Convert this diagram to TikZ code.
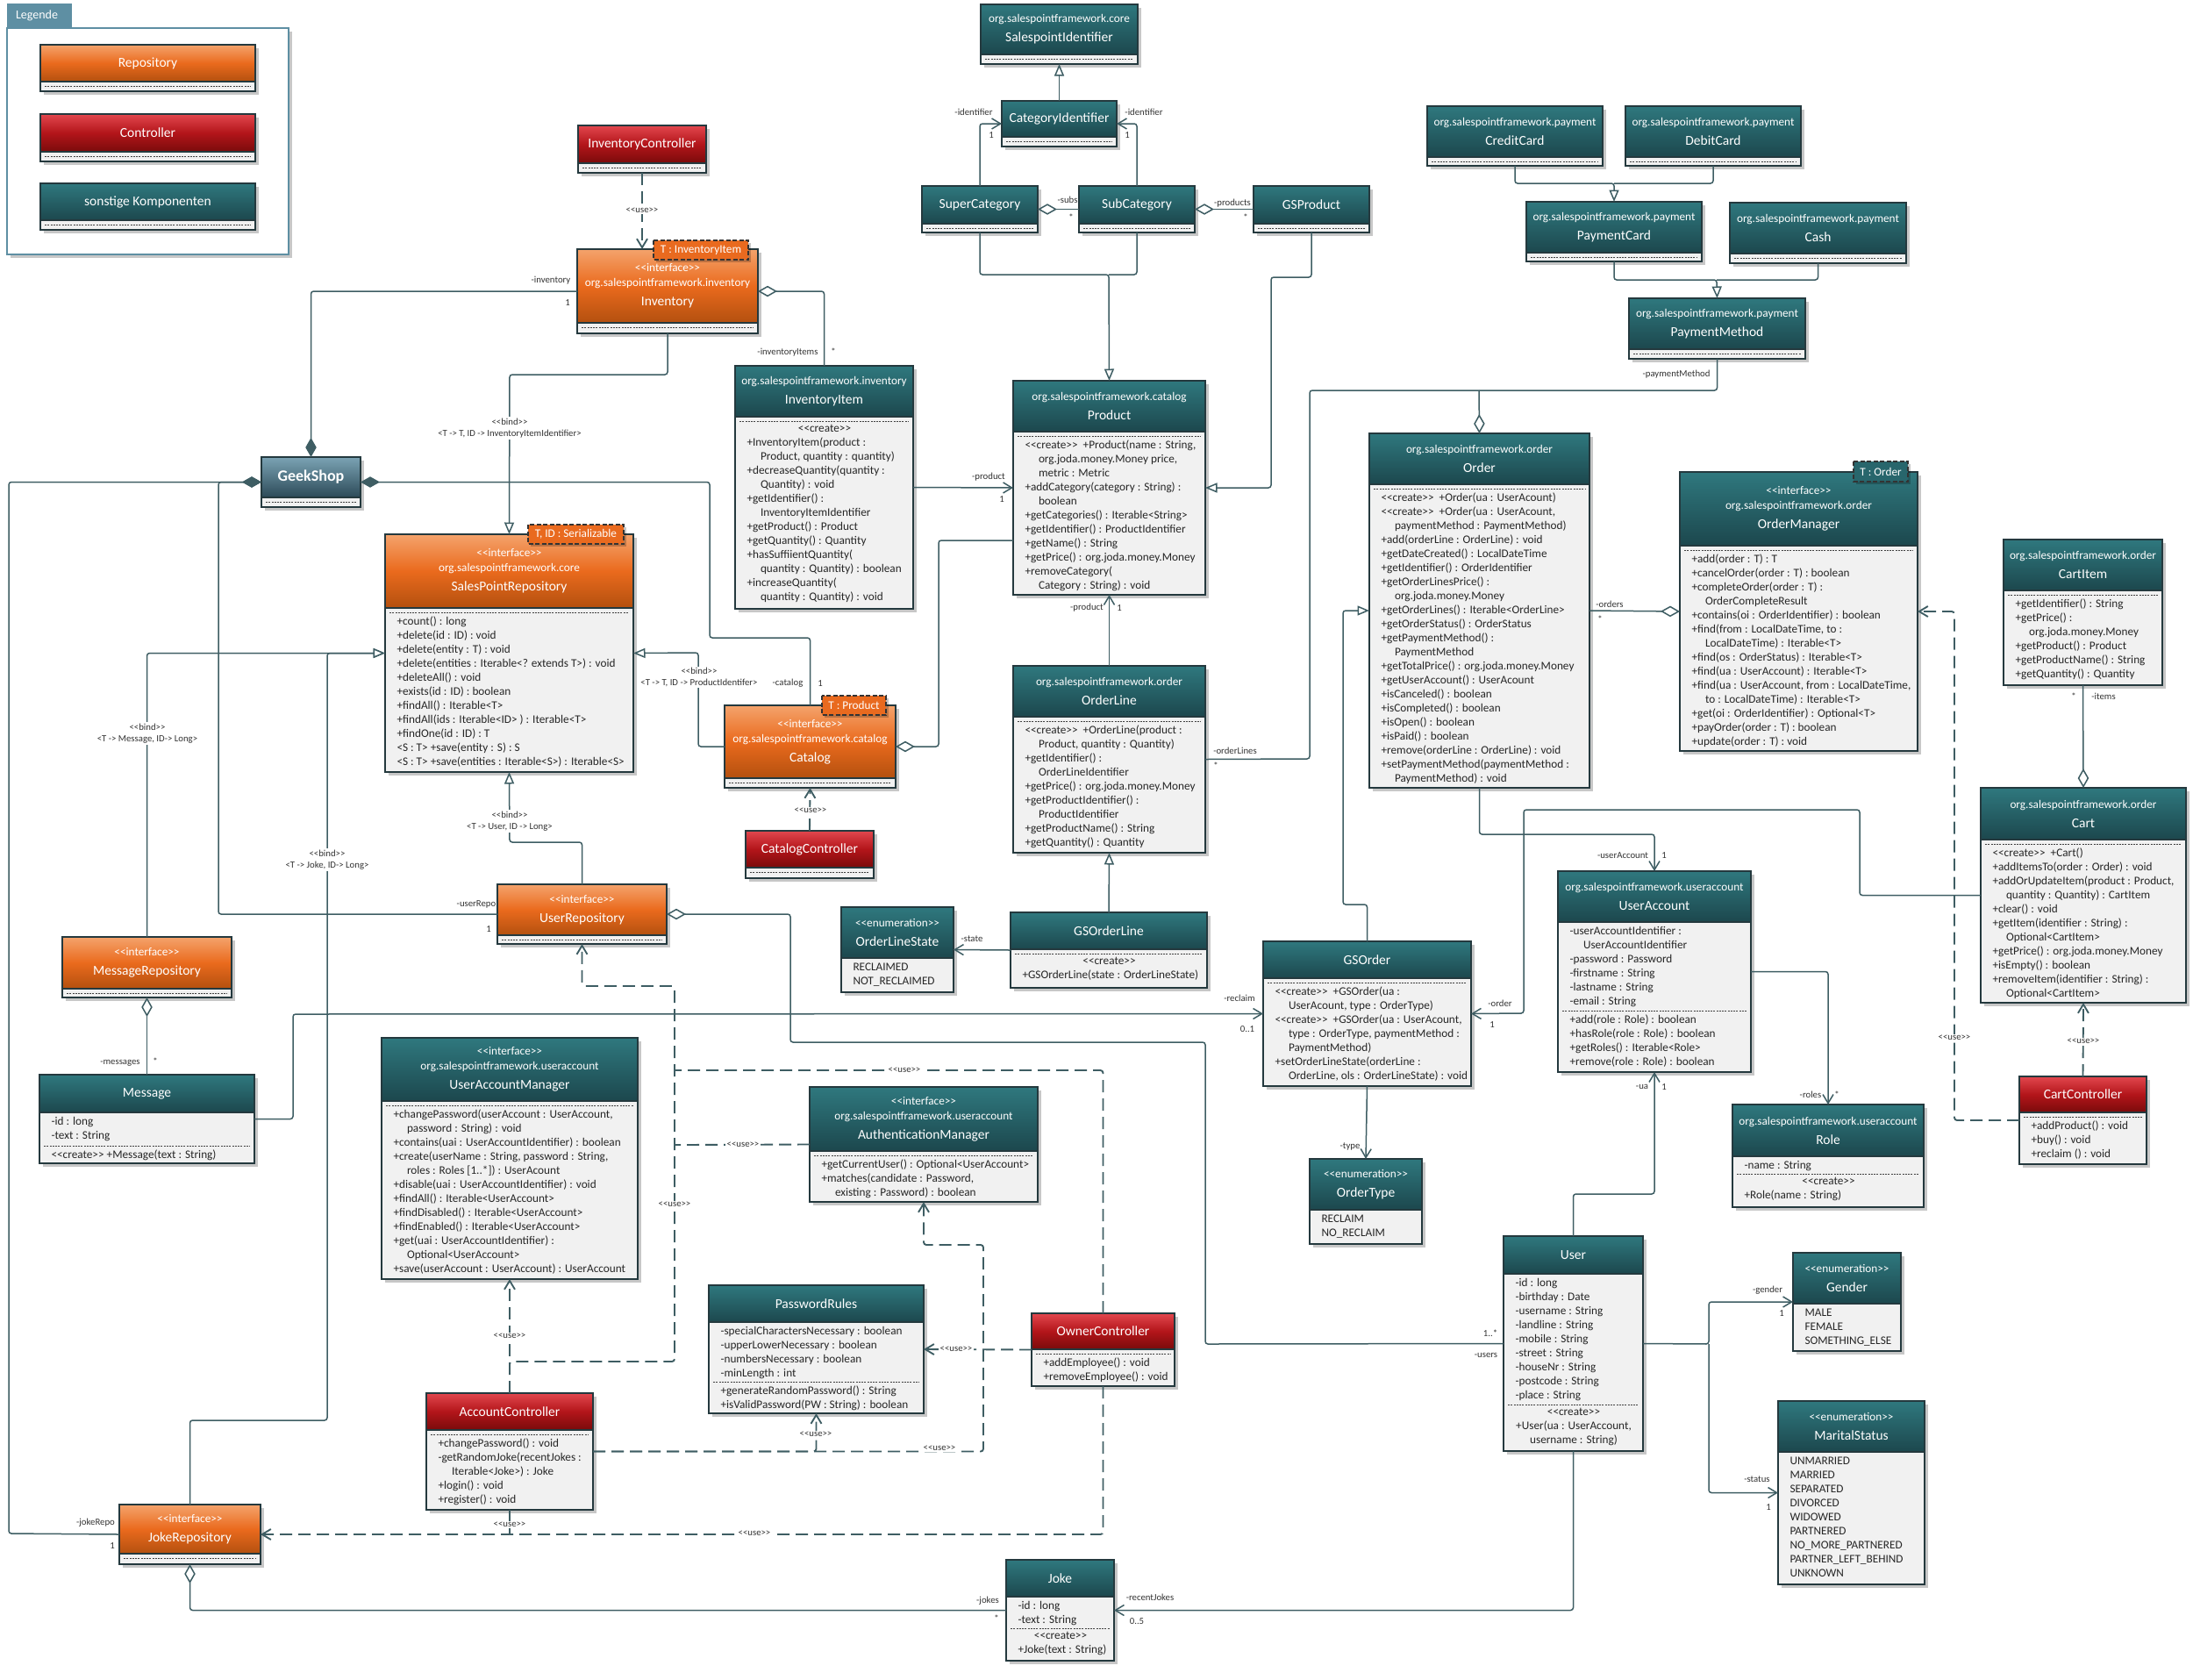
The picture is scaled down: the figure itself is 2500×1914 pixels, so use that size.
\documentclass[tikz,border=0pt]{standalone}
\usepackage{fontspec}
\newfontfamily\umlfont{Carlito}
\usetikzlibrary{arrows.meta,fit,positioning}

\definecolor{tealtop}{HTML}{2F787E}
\definecolor{tealbot}{HTML}{1C474D}
\definecolor{orangetop}{HTML}{F4A36C}
\definecolor{orangemid}{HTML}{EA6A1D}
\definecolor{orangebot}{HTML}{B3500F}
\definecolor{redtop}{HTML}{E2474E}
\definecolor{redmid}{HTML}{B3151A}
\definecolor{redbot}{HTML}{7A0B0B}
\definecolor{geektop}{HTML}{7BA3B4}
\definecolor{geekbot}{HTML}{2C4A58}
\definecolor{bodyfill}{HTML}{F1F1F1}
\definecolor{framecol}{HTML}{24393E}
\definecolor{linecol}{HTML}{3E5D63}
\definecolor{legendcol}{HTML}{5E8FA3}
\definecolor{tmplorange}{HTML}{E96A1F}
\definecolor{tmplteal}{HTML}{28666C}

\tikzset{
  x=0.4pt, y=-0.4pt,
  tealhead/.style={top color=tealtop, bottom color=tealbot},
  orangehead/.style={top color=orangetop, bottom color=orangebot, middle color=orangemid},
  redhead/.style={top color=redtop, bottom color=redbot, middle color=redmid},
  geekhead/.style={top color=geektop, bottom color=geekbot},
  classbox/.style={fill=bodyfill, inner sep=0pt, outer sep=0pt},
  boxedge/.style={draw=framecol, line width=0.5pt},
  boxshadow/.style={fill=black, opacity=0.22},
  headtext/.style={text=white, align=center, inner sep=0pt, font=\umlfont\fontsize{5.3}{6.8}\selectfont},
  bodytext/.style={text=black!85, align=left, inner sep=0pt, anchor=north west, font=\umlfont\fontsize{5.3}{6.4}\selectfont},
  sepline/.style={draw=black!75, line width=0.35pt, dash pattern=on 0.8pt off 0.5pt},
  tmplbox/.style={draw=black!80, line width=0.6pt, dash pattern=on 2pt off 1pt},
  tmpltext/.style={text=white, inner sep=0pt, font=\umlfont\fontsize{5.3}{6.4}\selectfont},
  lbl/.style={text=black!80, inner sep=0.6pt, font=\umlfont\fontsize{4.3}{5.2}\selectfont},
  onlbl/.style={lbl, fill=white, align=center},
  conn/.style={draw=linecol, line width=0.6pt, rounded corners=1.2pt},
  gen/.style={conn, -{Triangle[fill=white, length=5.4pt, width=4.4pt]}},
  nav/.style={conn, -{Straight Barb[length=4pt, width=4.8pt]}},
  comp/.style={conn, {Diamond[length=8.8pt, width=5pt, fill=linecol]}-},
  aggr/.style={conn, {Diamond[length=8.8pt, width=5pt, fill=white]}-},
  usel/.style={conn, line width=0.75pt, dash pattern=on 5.6pt off 2.8pt},
  use/.style={usel, -{Straight Barb[length=4pt, width=4.8pt]}},
}

\newcommand\clsname[1]{{\fontsize{6.2}{7}\selectfont #1}}
\newcommand\cont{\hspace*{6.2pt}}
\newcommand\centred[1]{\makebox[\bodywd][c]{#1}}

% frame of a class: style, name, left, top, right, head bottom, bottom, title
\newcommand\umlframe[8]{%
  \fill[boxshadow] (#3+4,#4+4) rectangle (#5+4,#7+4);
  \path (#3,#4) coordinate (#2-nw) (#5,#7) coordinate (#2-se);
  \node[classbox, fit=(#2-nw)(#2-se)] (#2) {};
  \shade[#1] (#3,#4) rectangle (#5,#6);
  \draw[boxedge] (#3,#4) rectangle (#5,#7) (#3,#6) -- (#5,#6);
  \node[headtext] (#2-head) at ({(#3+#5)/2},{(#4+#6)/2}) {#8};
}
\newcommand\umlbody[5]{%
  \pgfmathsetlengthmacro\bodywd{(#3-#2-26)*0.4pt}%
  \node[bodytext] (#1) at (#2+13,#4) {#5};
}
% class without attributes (empty compartment as dashed line)
\newcommand\umlclass[9][tealhead]{%
  \umlframe{#1}{#2}{#3}{#4}{#5}{#6}{#7}{#8}%
  \draw[sepline] (#3+5,#6+5) -- (#5-5,#6+5);
  \umlbody{#2-body}{#3}{#5}{#6+9}{#9}%
}
% class with attributes
\newcommand\umldata[9][tealhead]{%
  \umlframe{#1}{#2}{#3}{#4}{#5}{#6}{#7}{#8}%
  \umlbody{#2-body}{#3}{#5}{#6+5}{#9}%
}
\newcommand\umlops[5]{%
  \draw[sepline] (#2+5,#4) -- (#3-5,#4);
  \umlbody{#1-ops}{#2}{#3}{#4+4}{#5}%
}
\newcommand\umltmpl[7][tmplorange]{%
  \fill[boxshadow] (#3+3,#4+3) rectangle (#5+3,#6+3);
  \draw[tmplbox, fill=#1] (#3,#4) rectangle (#5,#6);
  \node[tmpltext] (#2) at ({(#3+#5)/2},{(#4+#6)/2}) {#7};
}
\newcommand\rl[4]{\node[lbl] (#1) at (#2,#3) {#4};}
\newcommand\onl[4]{\node[onlbl] (#1) at (#2,#3) {#4};}

\begin{document}
\umlfont
\begin{tikzpicture}
\useasboundingbox (0,0) rectangle (2500,1914);

% Legende
\fill[boxshadow] (12,36) rectangle (333,294);
\draw[draw=legendcol, line width=0.6pt, fill=white] (8,32) rectangle (329,290);
\fill[legendcol] (8,4) rectangle (82,32);
\node[text=white, font=\umlfont\fontsize{5.6}{6.5}\selectfont] (legendtitle) at (42,18) {Legende};
\umlclass[orangehead]{legrepo}{46}{51}{291}{93}{104}{\clsname{Repository}}{}
\umlclass[redhead]{legctrl}{46}{130}{291}{173}{184}{\clsname{Controller}}{}
\umlclass[tealhead]{legother}{46}{209}{291}{251}{262}{\clsname{sonstige Komponenten}}{}

% catalog part
\umlclass{spid}{1118}{5}{1297}{62}{73}{org.salespointframework.core\\[2pt]\clsname{SalespointIdentifier}}{}
\umlclass{catid}{1142}{115}{1273}{156}{167}{\clsname{CategoryIdentifier}}{}
\umlclass{supercat}{1051}{212}{1183}{255}{265}{\clsname{SuperCategory}}{}
\umlclass{subcat}{1230}{212}{1362}{255}{265}{\clsname{SubCategory}}{}
\umlclass{gsproduct}{1429}{212}{1561}{255}{265}{\clsname{GSProduct}}{}
\umlclass{product}{1155}{434}{1374}{492}{678}{org.salespointframework.catalog\\[2pt]\clsname{Product}}{%
<<create>>\ \ +Product(name : String,\\
\cont org.joda.money.Money price,\\
\cont metric : Metric\\
+addCategory(category : String) :\\
\cont boolean\\
+getCategories() : Iterable<String>\\
+getIdentifier() : ProductIdentifier\\
+getName() : String\\
+getPrice() : org.joda.money.Money\\
+removeCategory(\\
\cont Category : String) : void}
\umlclass[orangehead]{catalog}{826}{804}{1021}{887}{898}{<<interface>>\\org.salespointframework.catalog\\[2pt]\clsname{Catalog}}{}
\umltmpl{catalog-tmpl}{937}{793}{1010}{815}{T : Product}
\umlclass[redhead]{catctrl}{850}{947}{996}{989}{1001}{\clsname{CatalogController}}{}

% inventory part
\umlclass[redhead]{invctrl}{659}{143}{805}{186}{197}{\clsname{InventoryController}}{}
\umlclass[orangehead]{inventory}{658}{284}{864}{368}{380}{<<interface>>\\org.salespointframework.inventory\\[2pt]\clsname{Inventory}}{}
\umltmpl{inventory-tmpl}{745}{274}{853}{296}{T : InventoryItem}
\umlclass{invitem}{838}{417}{1041}{475}{694}{org.salespointframework.inventory\\[2pt]\clsname{InventoryItem}}{%
\centred{<<create>>}\\
+InventoryItem(product :\\
\cont Product, quantity : quantity)\\
+decreaseQuantity(quantity :\\
\cont Quantity) : void\\
+getIdentifier() :\\
\cont InventoryItemIdentifier\\
+getProduct() : Product\\
+getQuantity() : Quantity\\
+hasSuffiientQuantity(\\
\cont quantity : Quantity) : boolean\\
+increaseQuantity(\\
\cont quantity : Quantity) : void}

\umlclass[geekhead]{geekshop}{298}{521}{411}{567}{578}{{\fontsize{7.2}{8}\selectfont\bfseries GeekShop}}{}

\umlclass[orangehead]{spr}{439}{609}{722}{693}{880}{<<interface>>\\org.salespointframework.core\\[2pt]\clsname{SalesPointRepository}}{%
+count() : long\\
+delete(id : ID) : void\\
+delete(entity : T) : void\\
+delete(entities : Iterable<? extends T>) : void\\
+deleteAll() : void\\
+exists(id : ID) : boolean\\
+findAll() : Iterable<T>\\
+findAll(ids : Iterable<ID> ) : Iterable<T>\\
+findOne(id : ID) : T\\
<S : T> +save(entity : S) : S\\
<S : T> +save(entities : Iterable<S>) : Iterable<S>}
\umltmpl{spr-tmpl}{602}{598}{711}{620}{T, ID : Serializable}

% order part
\umlclass{orderline}{1155}{759}{1374}{817}{972}{org.salespointframework.order\\[2pt]\clsname{OrderLine}}{%
<<create>>\ \ +OrderLine(product :\\
\cont Product, quantity : Quantity)\\
+getIdentifier() :\\
\cont OrderLineIdentifier\\
+getPrice() : org.joda.money.Money\\
+getProductIdentifier() :\\
\cont ProductIdentifier\\
+getProductName() : String\\
+getQuantity() : Quantity}
\umlclass{gsorderline}{1152}{1040}{1376}{1082}{1126}{\clsname{GSOrderLine}}{%
\centred{<<create>>}\\
+GSOrderLine(state : OrderLineState)}
\umldata{olstate}{959}{1034}{1087}{1092}{1131}{<<enumeration>>\\[2pt]\clsname{OrderLineState}}{%
RECLAIMED\\
NOT\_RECLAIMED}
\umlclass{order}{1561}{494}{1812}{552}{898}{org.salespointframework.order\\[2pt]\clsname{Order}}{%
<<create>>\ \ +Order(ua : UserAcount)\\
<<create>>\ \ +Order(ua : UserAcount,\\
\cont paymentMethod : PaymentMethod)\\
+add(orderLine : OrderLine) : void\\
+getDateCreated() : LocalDateTime\\
+getIdentifier() : OrderIdentifier\\
+getOrderLinesPrice() :\\
\cont org.joda.money.Money\\
+getOrderLines() : Iterable<OrderLine>\\
+getOrderStatus() : OrderStatus\\
+getPaymentMethod() :\\
\cont PaymentMethod\\
+getTotalPrice() : org.joda.money.Money\\
+getUserAccount() : UserAcount\\
+isCanceled() : boolean\\
+isCompleted() : boolean\\
+isOpen() : boolean\\
+isPaid() : boolean\\
+remove(orderLine : OrderLine) : void\\
+setPaymentMethod(paymentMethod :\\
\cont PaymentMethod) : void}
\umlclass{ordermgr}{1915}{538}{2186}{622}{856}{<<interface>>\\org.salespointframework.order\\[2pt]\clsname{OrderManager}}{%
+add(order : T) : T\\
+cancelOrder(order : T) : boolean\\
+completeOrder(order : T) :\\
\cont OrderCompleteResult\\
+contains(oi : OrderIdentifier) : boolean\\
+find(from : LocalDateTime, to :\\
\cont LocalDateTime) : Iterable<T>\\
+find(os : OrderStatus) : Iterable<T>\\
+find(ua : UserAccount) : Iterable<T>\\
+find(ua : UserAccount, from : LocalDateTime,\\
\cont to : LocalDateTime) : Iterable<T>\\
+get(oi : OrderIdentifier) : Optional<T>\\
+payOrder(order : T) : boolean\\
+update(order : T) : void}
\umltmpl[tmplteal]{ordermgr-tmpl}{2113}{526}{2175}{549}{T : Order}

% payment
\umlclass{creditcard}{1627}{121}{1827}{179}{189}{org.salespointframework.payment\\[2pt]\clsname{CreditCard}}{}
\umlclass{debitcard}{1853}{121}{2053}{179}{189}{org.salespointframework.payment\\[2pt]\clsname{DebitCard}}{}
\umlclass{paycard}{1740}{230}{1940}{288}{298}{org.salespointframework.payment\\[2pt]\clsname{PaymentCard}}{}
\umlclass{cash}{1972}{231}{2173}{289}{300}{org.salespointframework.payment\\[2pt]\clsname{Cash}}{}
\umlclass{paymethod}{1857}{340}{2058}{398}{409}{org.salespointframework.payment\\[2pt]\clsname{PaymentMethod}}{}

% cart
\umlclass{cartitem}{2284}{615}{2465}{673}{781}{org.salespointframework.order\\[2pt]\clsname{CartItem}}{%
+getIdentifier() : String\\
+getPrice() :\\
\cont org.joda.money.Money\\
+getProduct() : Product\\
+getProductName() : String\\
+getQuantity() : Quantity}
\umlclass{cart}{2258}{898}{2492}{957}{1143}{org.salespointframework.order\\[2pt]\clsname{Cart}}{%
<<create>>\ \ +Cart()\\
+addItemsTo(order : Order) : void\\
+addOrUpdateItem(product : Product,\\
\cont quantity : Quantity) : CartItem\\
+clear() : void\\
+getItem(identifier : String) :\\
\cont Optional<CartItem>\\
+getPrice() : org.joda.money.Money\\
+isEmpty() : boolean\\
+removeItem(identifier : String) :\\
\cont Optional<CartItem>}
\umlclass[redhead]{cartctrl}{2302}{1227}{2447}{1268}{1327}{\clsname{CartController}}{%
+addProduct() : void\\
+buy() : void\\
+reclaim () : void}

\umlclass{gsorder}{1440}{1073}{1677}{1115}{1238}{\clsname{GSOrder}}{%
<<create>>\ \ +GSOrder(ua :\\
\cont UserAcount, type : OrderType)\\
<<create>>\ \ +GSOrder(ua : UserAcount,\\
\cont type : OrderType, paymentMethod :\\
\cont PaymentMethod)\\
+setOrderLineState(orderLine :\\
\cont OrderLine, ols : OrderLineState) : void}
\umldata{ordertype}{1493}{1321}{1621}{1379}{1418}{<<enumeration>>\\[2pt]\clsname{OrderType}}{%
RECLAIM\\
NO\_RECLAIM}

% user accounts
\umldata{useraccount}{1776}{993}{1996}{1051}{1222}{org.salespointframework.useraccount\\[2pt]\clsname{UserAccount}}{%
-userAccountIdentifier :\\
\cont UserAccountIdentifier\\
-password : Password\\
-firstname : String\\
-lastname : String\\
-email : String}
\umlops{useraccount}{1776}{1996}{1152}{%
+add(role : Role) : boolean\\
+hasRole(role : Role) : boolean\\
+getRoles() : Iterable<Role>\\
+remove(role : Role) : boolean}
\umldata{role}{1975}{1259}{2193}{1318}{1376}{org.salespointframework.useraccount\\[2pt]\clsname{Role}}{%
-name : String}
\umlops{role}{1975}{2193}{1338}{%
\centred{<<create>>}\\
+Role(name : String)}
\umldata{user}{1714}{1409}{1873}{1452}{1654}{\clsname{User}}{%
-id : long\\
-birthday : Date\\
-username : String\\
-landline : String\\
-mobile : String\\
-street : String\\
-houseNr : String\\
-postcode : String\\
-place : String}
\umlops{user}{1714}{1873}{1601}{%
\centred{<<create>>}\\
\centred{+User(ua : UserAccount,}\\
\centred{username : String)}}
\umldata{gender}{2044}{1428}{2167}{1486}{1540}{<<enumeration>>\\[2pt]\clsname{Gender}}{%
MALE\\
FEMALE\\
SOMETHING\_ELSE}
\umldata{marital}{2027}{1597}{2194}{1655}{1806}{<<enumeration>>\\[2pt]\clsname{MaritalStatus}}{%
UNMARRIED\\
MARRIED\\
SEPARATED\\
DIVORCED\\
WIDOWED\\
PARTNERED\\
NO\_MORE\_PARTNERED\\
PARTNER\_LEFT\_BEHIND\\
UNKNOWN}
\umldata{joke}{1147}{1778}{1270}{1820}{1893}{\clsname{Joke}}{%
-id : long\\
-text : String}
\umlops{joke}{1147}{1270}{1856}{%
\centred{<<create>>}\\
+Joke(text : String)}

% repositories
\umlclass[orangehead]{userrepo}{567}{1008}{760}{1066}{1076}{<<interface>>\\[2pt]\clsname{UserRepository}}{}
\umlclass[orangehead]{msgrepo}{71}{1068}{264}{1127}{1137}{<<interface>>\\[2pt]\clsname{MessageRepository}}{}
\umlclass[orangehead]{jokerepo}{136}{1715}{297}{1771}{1783}{<<interface>>\\[2pt]\clsname{JokeRepository}}{}
\umldata{message}{45}{1225}{290}{1268}{1326}{\clsname{Message}}{%
-id : long\\
-text : String}
\umlops{message}{45}{290}{1306}{<<create>> +Message(text : String)}

% accounts and controllers
\umlclass{uam}{435}{1183}{727}{1255}{1458}{<<interface>>\\org.salespointframework.useraccount\\[2pt]\clsname{UserAccountManager}}{%
+changePassword(userAccount : UserAccount,\\
\cont password : String) : void\\
+contains(uai : UserAccountIdentifier) : boolean\\
+create(userName : String, password : String,\\
\cont roles : Roles [1..*]) : UserAcount\\
+disable(uai : UserAccountIdentifier) : void\\
+findAll() : Iterable<UserAccount>\\
+findDisabled() : Iterable<UserAccount>\\
+findEnabled() : Iterable<UserAccount>\\
+get(uai : UserAccountIdentifier) :\\
\cont Optional<UserAccount>\\
+save(userAccount : UserAccount) : UserAccount}
\umlclass{authmgr}{923}{1239}{1183}{1312}{1370}{<<interface>>\\org.salespointframework.useraccount\\[2pt]\clsname{AuthenticationManager}}{%
+getCurrentUser() : Optional<UserAccount>\\
+matches(candidate : Password,\\
\cont existing : Password) : boolean}
\umlclass[redhead]{accctrl}{486}{1588}{676}{1630}{1721}{\clsname{AccountController}}{%
+changePassword() : void\\
-getRandomJoke(recentJokes :\\
\cont Iterable<Joke>) : Joke\\
+login() : void\\
+register() : void}
\umldata{pwrules}{808}{1465}{1053}{1507}{1611}{\clsname{PasswordRules}}{%
-specialCharactersNecessary : boolean\\
-upperLowerNecessary : boolean\\
-numbersNecessary : boolean\\
-minLength : int}
\umlops{pwrules}{808}{1053}{1575}{%
+generateRandomPassword() : String\\
+isValidPassword(PW : String) : boolean}
\umlclass[redhead]{ownerctrl}{1176}{1497}{1339}{1538}{1580}{\clsname{OwnerController}}{%
+addEmployee() : void\\
+removeEmployee() : void}

% connectors: catalog
\draw[gen] (catid.north) -- (spid.south);
\draw[nav] (supercat.north) |- (catid.west);
\draw[nav] (subcat.north) |- (catid.east);
\draw[aggr] (supercat.east) -- (subcat.west);
\draw[aggr] (subcat.east) -- (gsproduct.west);
\coordinate (catjoin) at (1264,313);
\draw[conn] (subcat.south) |- (catjoin);
\draw[gen] (supercat.south) |- (catjoin) -- (product.north);
\draw[gen] (gsproduct.south) |- (1449,316) |- (product.east);
\draw[nav] (invitem.east) -- (product.west);
\draw[aggr] (catalog.east) -| (1070,616) -- (product.west |- 0,616);
\draw[use] (catctrl.north) -- (catalog.south);

% connectors: inventory, geekshop
\draw[aggr] (inventory.east) -| (invitem.north);
\draw[use] (invctrl.south) -- (invctrl.south |- inventory.north);
\draw[comp] (geekshop.north) |- (inventory.west);
\draw[comp] (geekshop.west) -| (249,1042) -- (userrepo.west);
\draw[comp] (geekshop.west) -| (10,1748) -- (jokerepo.west);
\draw[comp] (geekshop.east) -| (809,727) -| (catalog.north);

% connectors: bind
\draw[gen] (inventory.south) |- (581,427) -- (spr.north);
\draw[gen] (msgrepo.north) |- (spr.west);
\draw[gen] (jokerepo.north) |- (373,1619) |- (spr.west);
\draw[gen] (userrepo.north) |- (581,960) -- (spr.south);
\draw[gen] (catalog.west) -| (796,744) -- (spr.east);

% connectors: order
\draw[nav] (orderline.north) -- (product.south);
\draw[gen] (gsorderline.north) -- (orderline.south);
\draw[nav] (gsorderline.west) -- (olstate.east);
\coordinate (ordertop) at (1686,445);
\draw[aggr] (order.north) -- (ordertop);
\draw[conn] (ordertop) -| (1493,865) -- (orderline.east);
\draw[conn] (ordertop) -| (paymethod.south);
\coordinate (cardjoin) at (1840,209);
\coordinate (payjoin) at (1957,319);
\draw[gen] (creditcard.south) |- (cardjoin) -- (paycard.north);
\draw[conn] (debitcard.south) |- (cardjoin);
\draw[gen] (paycard.south) |- (payjoin) -- (paymethod.north);
\draw[conn] (cash.south) |- (payjoin);
\draw[gen] (gsorder.north) |- (1531,1031) |- (order.west);
\draw[nav] (gsorder.south) -- (ordertype.north);
\draw[aggr] (ordermgr.west) -- (order.east);
\draw[nav] (order.south) |- (1886,951) -- (useraccount.north);
\draw[nav] (cart.west) -| (2120,923) -| (1737,1155) -- (gsorder.east);
\draw[aggr] (cart.north) -- (cartitem.south);
\draw[use] (cartctrl.north) -- (cart.south);
\draw[use] (cartctrl.west) -| (2228,697) -- (ordermgr.east);

% connectors: users
\draw[nav] (useraccount.east) -| (role.north);
\draw[nav] (user.north) |- (1886,1361) -- (useraccount.south);
\coordinate (userfork) at (1948,1532);
\draw[nav] (user.east) -- (userfork) |- (gender.west);
\draw[nav] (userfork) |- (marital.west);
\draw[nav] (user.south) |- (joke.east);
\draw[aggr] (jokerepo.south) |- (joke.west);
\draw[aggr] (userrepo.east) -| (901,1188) -| (1374,1532) -- (user.west);
\draw[aggr] (msgrepo.south) -- (message.north);
\draw[nav] (message.east) -| (334,1156) -- (gsorder.west);

% connectors: controllers
\draw[use] (accctrl.north) -- (uam.south);
\draw[use] (accctrl.north) |- (769,1552) |- (663.5,1124) -- (userrepo.south);
\draw[usel] (ownerctrl.north) |- (769,1220);
\draw[usel] (authmgr.west) -- (769,1305);
\draw[use] (accctrl.east) -| (1121,1419) -| (authmgr.south);
\draw[use] (accctrl.east) -| (pwrules.south);
\draw[use] (ownerctrl.west) -- (pwrules.east);
\draw[use] (ownerctrl.south) |- (jokerepo.east);
\draw[usel] (accctrl.south) -- (accctrl.south |- jokerepo.east);

% labels
\rl{l-inv}{628}{320}{-inventory}
\rl{l-inv1}{647}{345}{1}
\rl{l-items}{898}{402}{-inventoryItems}
\rl{l-items1}{950}{401}{*}
\onl{u-inv}{732}{240}{<<use>>}
\rl{l-idl}{1110}{128}{-identifier}
\rl{l-idl1}{1130}{154}{1}
\rl{l-idr}{1304}{128}{-identifier}
\rl{l-idr1}{1285}{154}{1}
\rl{l-subs}{1217}{228}{-subs}
\rl{l-subs1}{1221}{248}{*}
\rl{l-prods}{1405}{232}{-products}
\rl{l-prods1}{1420}{248}{*}
\rl{l-prod}{1127}{544}{-product}
\rl{l-prod1}{1142}{569}{1}
\rl{l-olprod}{1239}{693}{-product}
\rl{l-olprod1}{1276}{693}{1}
\rl{l-olines}{1408}{856}{-orderLines}
\rl{l-olines1}{1386}{873}{*}
\rl{l-pay}{1911}{427}{-paymentMethod}
\rl{l-orders}{1835}{689}{-orders}
\rl{l-orders1}{1824}{706}{*}
\rl{l-state}{1108}{1070}{-state}
\rl{l-type}{1539}{1307}{-type}
\rl{l-uacc}{1850}{975}{-userAccount}
\rl{l-uacc1}{1897}{975}{1}
\rl{l-order}{1710}{1144}{-order}
\rl{l-order1}{1701}{1168}{1}
\rl{l-items2}{2364}{794}{*}
\rl{l-items3}{2398}{794}{-items}
\onl{u-cart}{2375}{1187}{<<use>>}
\onl{u-omgr}{2228}{1183}{<<use>>}
\rl{l-roles}{2064}{1248}{-roles}
\rl{l-roles1}{2094}{1248}{*}
\rl{l-ua}{1872}{1239}{-ua}
\rl{l-ua1}{1897}{1239}{1}
\rl{l-gender}{2015}{1471}{-gender}
\rl{l-gender1}{2031}{1497}{1}
\rl{l-status}{2003}{1686}{-status}
\rl{l-status1}{2016}{1718}{1}
\rl{l-users1}{1699}{1520}{1..*}
\rl{l-users}{1694}{1545}{-users}
\rl{l-recent}{1311}{1821}{-recentJokes}
\rl{l-recent1}{1296}{1848}{0..5}
\rl{l-jokes}{1126}{1825}{-jokes}
\rl{l-jokes1}{1136}{1845}{*}
\rl{l-jrepo}{109}{1736}{-jokeRepo}
\rl{l-jrepo1}{128}{1762}{1}
\rl{l-urepo}{543}{1031}{-userRepo}
\rl{l-urepo1}{557}{1059}{1}
\rl{l-catalog}{898}{779}{-catalog}
\rl{l-catalog1}{935}{779}{1}
\rl{l-msgs}{137}{1212}{-messages}
\rl{l-msgs1}{177}{1210}{*}
\rl{l-reclaim}{1413}{1138}{-reclaim}
\rl{l-reclaim1}{1422}{1173}{0..1}
\onl{b-inv}{581}{488}{<<bind>>\\<T -> T, ID -> InventoryItemIdentifier>}
\onl{b-msg}{168}{836}{<<bind>>\\<T -> Message, ID-> Long>}
\onl{b-joke}{373}{980}{<<bind>>\\<T -> Joke, ID-> Long>}
\onl{b-user}{581}{936}{<<bind>>\\<T -> User, ID -> Long>}
\onl{b-cat}{797}{772}{<<bind>>\\<T -> T, ID -> ProductIdentifer>}
\onl{u-catctrl}{924}{924}{<<use>>}
\onl{u-uam}{581}{1523}{<<use>>}
\onl{u-trunk}{769}{1373}{<<use>>}
\onl{u-owner}{1031}{1220}{<<use>>}
\onl{u-auth}{847}{1305}{<<use>>}
\onl{u-accauth}{1071}{1651}{<<use>>}
\onl{u-accpw}{930}{1635}{<<use>>}
\onl{u-ownpw}{1090}{1538}{<<use>>}
\onl{u-ownjoke}{860}{1748}{<<use>>}
\onl{u-accjoke}{581}{1738}{<<use>>}
\end{tikzpicture}
\end{document}
